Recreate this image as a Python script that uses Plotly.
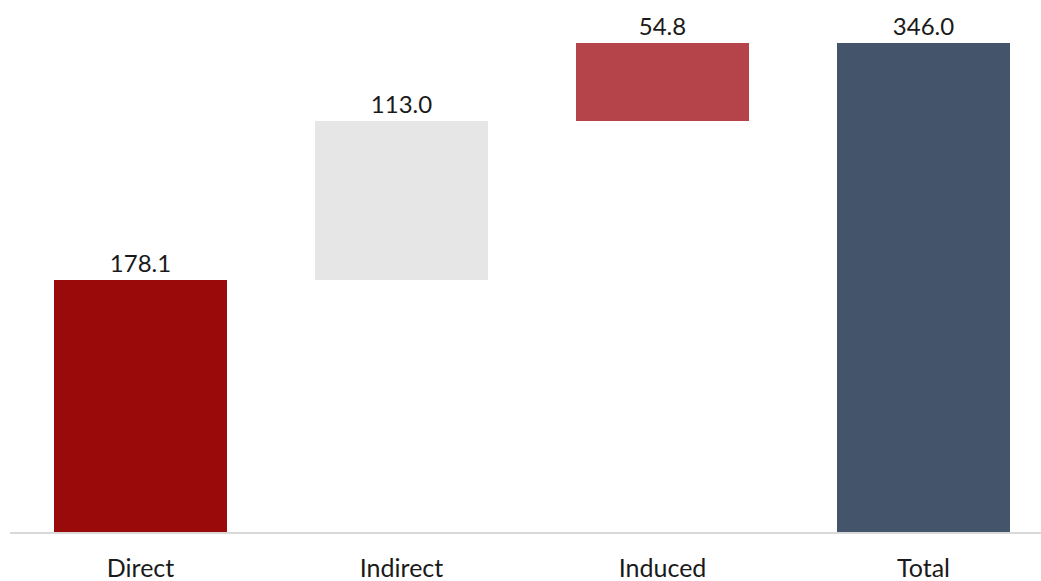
import plotly.graph_objects as go

categories = ["Direct", "Indirect", "Induced", "Total"]
values = [178.1, 113.0, 54.8, 346.0]
measures = ["relative", "relative", "relative", "total"]
labels = ["178.1", "113.0", "54.8", "346.0"]
colors = ["#9b0a0b", "#e6e6e6", "#b5444a", "#44546a"]

# compute bases from cumulative sums
bases = []
running = 0.0
for v, m in zip(values, measures):
    if m == "total":
        bases.append(0.0)
    else:
        bases.append(running)
        running += v

fig = go.Figure(
    go.Bar(
        x=categories,
        y=values,
        base=bases,
        marker=dict(color=colors, line=dict(width=0)),
        width=0.664,
        text=labels,
        textposition="outside",
        textfont=dict(family="Lato", size=24, color="#1a1a1a"),
        cliponaxis=False,
        hoverinfo="skip",
    )
)

fig.update_layout(
    width=1041,
    height=581,
    margin=dict(l=10, r=0, t=0, b=49, autoexpand=False),
    plot_bgcolor="white",
    paper_bgcolor="white",
    showlegend=False,
    bargap=0,
)
fig.update_xaxes(
    range=[-0.5, 3.45],
    showline=True,
    linecolor="#d9d9d9",
    linewidth=2,
    showgrid=False,
    ticks="outside",
    ticklen=0,
    ticklabelstandoff=13,
    automargin=False,
    tickfont=dict(family="Lato", size=25, color="#1a1a1a"),
)
fig.update_yaxes(
    range=[0, 376.5],
    visible=False,
    showgrid=False,
    zeroline=False,
    automargin=False,
)

fig.write_html("out.html")
